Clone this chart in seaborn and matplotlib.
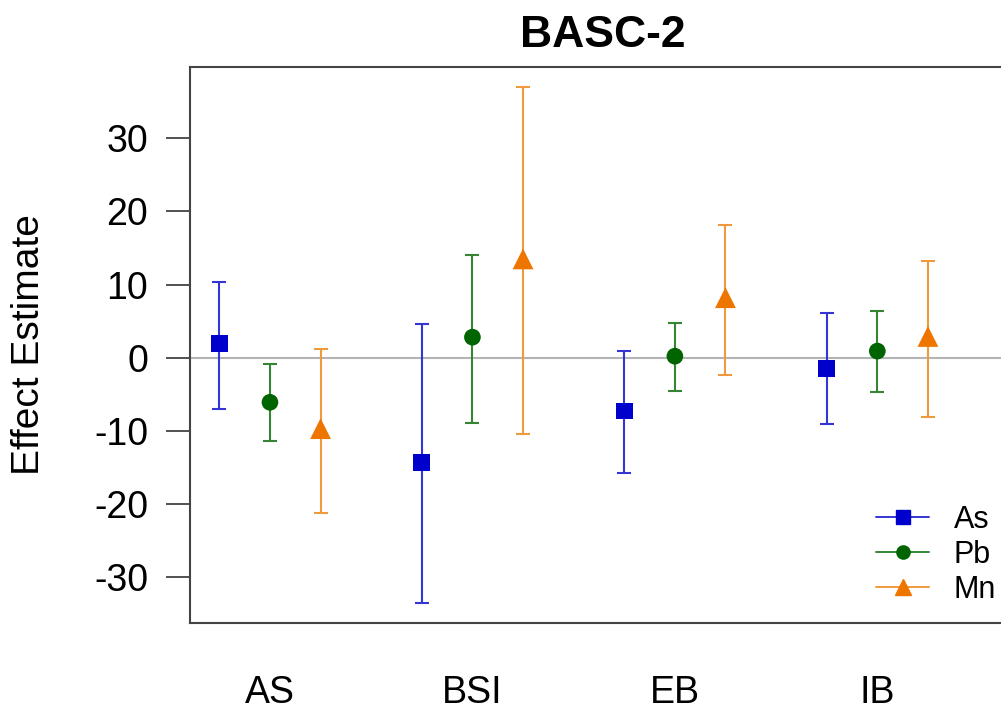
import numpy as np
import pandas as pd
import matplotlib
matplotlib.use("Agg")
import matplotlib.pyplot as plt
from matplotlib.lines import Line2D
import seaborn as sns

# values
groups = ["AS", "BSI", "EB", "IB"]
metals = ["As", "Pb", "Mn"]
as_est = [1.9, -14.3, -7.3, -1.5]
as_lo = [-7.0, -33.5, -15.7, -9.1]
as_hi = [10.4, 4.6, 0.9, 6.1]
pb_est = [-6.1, 2.8, 0.2, 0.9]
pb_lo = [-11.4, -8.9, -4.5, -4.7]
pb_hi = [-0.9, 14.1, 4.8, 6.4]
mn_est = [-9.7, 13.5, 8.2, 2.9]
mn_lo = [-21.3, -10.5, -2.4, -8.1]
mn_hi = [1.2, 37.0, 18.2, 13.2]

sns.set_theme(style="white")
plt.rcParams["font.family"] = ["Liberation Sans", "DejaVu Sans"]
plt.rcParams["axes.unicode_minus"] = False
plt.rcParams["text.color"] = "black"
plt.rcParams["axes.labelcolor"] = "black"
plt.rcParams["xtick.color"] = "black"
plt.rcParams["ytick.color"] = "black"

marker_cols = {"As": "#0000CD", "Pb": "#006400", "Mn": "#EE7600"}
line_cols = {"As": "#3535D5", "Pb": "#358535", "Mn": "#F09A40"}
markers = {"As": "s", "Pb": "o", "Mn": "^"}
msize = {"As": 12, "Pb": 12, "Mn": 15}
offsets = {"As": -0.25, "Pb": 0.0, "Mn": 0.25}

rows = []
for m, est, lo, hi in [("As", as_est, as_lo, as_hi), ("Pb", pb_est, pb_lo, pb_hi), ("Mn", mn_est, mn_lo, mn_hi)]:
    for i, g in enumerate(groups):
        rows.append({"group": g, "metal": m, "x": i + 1 + offsets[m], "est": est[i], "lo": lo[i], "hi": hi[i]})
df = pd.DataFrame(rows)

fig = plt.figure(figsize=(10.01, 7.15), dpi=100)
ax = fig.add_axes([190 / 1001, 1 - 622.5 / 715, 825 / 1001, (622.5 - 66.5) / 715])

ax.axhline(0, color="#b4b4b4", lw=1.5, zorder=1)

for m in metals:
    sub = df[df["metal"] == m]
    ax.errorbar(sub["x"], sub["est"], yerr=[sub["est"] - sub["lo"], sub["hi"] - sub["est"]],
                fmt="none", ecolor=line_cols[m], elinewidth=1.5, capsize=4.8, capthick=1.5, zorder=2)
    sns.scatterplot(data=sub, x="x", y="est", marker=markers[m], color=marker_cols[m],
                    s=msize[m] ** 2, edgecolor="none", ax=ax, zorder=3, legend=False)

ax.set_xlim(0.605, 4.68)
ax.set_ylim(-36.2, 39.8)
ax.set_xticks(range(1, len(groups) + 1))
ax.set_xticklabels(groups)
ax.set_yticks([-30, -20, -10, 0, 10, 20, 30])
ax.tick_params(axis="x", length=0, pad=38, labelsize=27)
ax.tick_params(axis="y", left=True, length=17, width=1.2, color="#333333", pad=13, labelsize=27)
ax.set_xlabel("")
ax.set_ylabel("Effect Estimate", fontsize=28, labelpad=34)
ax.set_title("BASC-2", fontsize=32, fontweight="bold", pad=14)
for side in ["left", "top", "bottom", "right"]:
    ax.spines[side].set_color("#444444")
    ax.spines[side].set_linewidth(1.5)

handles = [Line2D([0], [0], color=line_cols[m], lw=1.4, marker=markers[m],
                  markerfacecolor=marker_cols[m], markeredgecolor=marker_cols[m],
                  markersize=9.5 if m != "Mn" else 11.5) for m in metals]
ax.legend(handles, metals, loc="upper left", bbox_to_anchor=(876 / 1001, 1 - 505 / 715),
          bbox_transform=fig.transFigure, frameon=False, fontsize=22, handlelength=1.75,
          handletextpad=0.8, labelspacing=0.16, borderpad=0, borderaxespad=0)

fig.savefig("out.png", dpi=100)
